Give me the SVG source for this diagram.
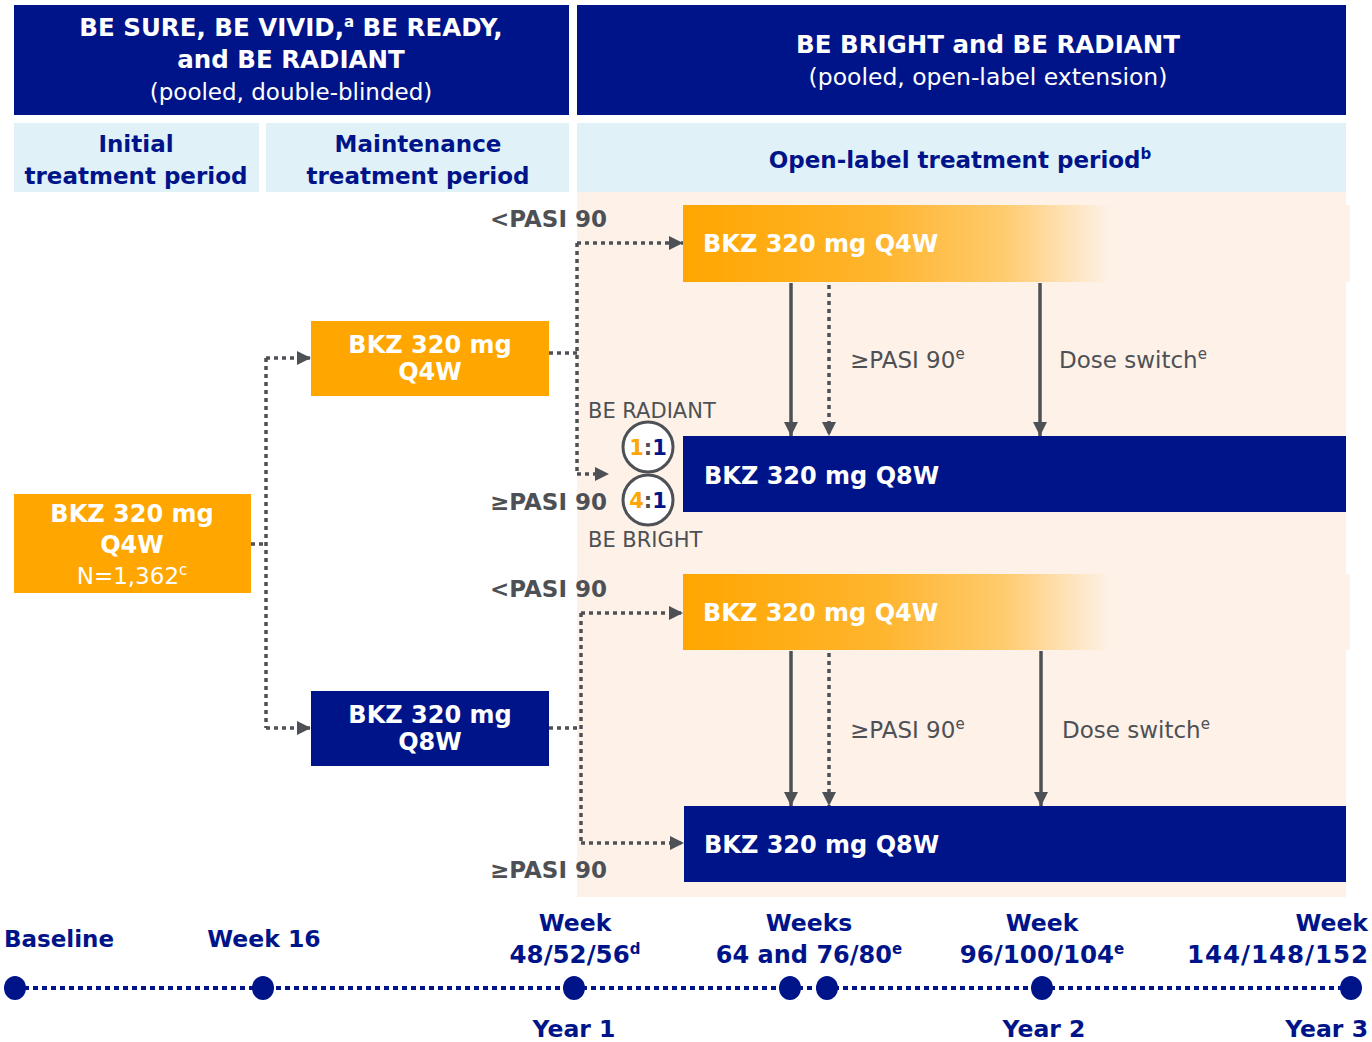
<svg xmlns="http://www.w3.org/2000/svg" width="1372" height="1042" viewBox="0 0 1372 1042">
<style>
.navy{fill:#00148A}
.org{fill:#FFA600}
.lb{fill:#E1F1F8}
.t{font-family:"DejaVu Sans","Verdana",sans-serif}
.b{font-weight:bold}
.w{fill:#FFFFFF}
.nv{fill:#00148A}
.g{fill:#4D5055}
.dot{fill:none;stroke:#4D5055;stroke-width:3.5;stroke-dasharray:4 4}
.sol{fill:none;stroke:#4D5055;stroke-width:3.5}
.tl{fill:none;stroke:#00148A;stroke-width:4;stroke-dasharray:5 4}
</style>
<defs>
<marker id="ah" markerUnits="userSpaceOnUse" markerWidth="16" markerHeight="16" refX="14" refY="7" orient="auto">
<path d="M0,0 L14,7 L0,14 z" fill="#4D5055"/>
</marker>
<linearGradient id="fade" x1="683" y1="0" x2="1350" y2="0" gradientUnits="userSpaceOnUse">
<stop offset="0" stop-color="#FFA600"/>
<stop offset="0.3" stop-color="#FFB52E"/>
<stop offset="0.48" stop-color="#FFCB6E"/>
<stop offset="0.64" stop-color="#FDF1E8"/>
<stop offset="1" stop-color="#FDF1E8"/>
</linearGradient>
</defs>
<rect width="1372" height="1042" fill="#FFFFFF"/>

<g id="header-left">
<rect x="14" y="5" width="555" height="110" class="navy"/>
<text class="t b w" x="291" y="36" font-size="24.5" text-anchor="middle">BE SURE, BE VIVID,<tspan font-size="15" dy="-9">a</tspan><tspan dy="9"> BE READY,</tspan></text>
<text class="t b w" x="291" y="68" font-size="24.5" text-anchor="middle">and BE RADIANT</text>
<text class="t w" x="291" y="100" font-size="23" text-anchor="middle">(pooled, double-blinded)</text>
</g>
<g id="header-right">
<rect x="577" y="5" width="769" height="110" class="navy"/>
<text class="t b w" x="988" y="53" font-size="24.5" text-anchor="middle">BE BRIGHT and BE RADIANT</text>
<text class="t w" x="988" y="85" font-size="23.5" text-anchor="middle">(pooled, open-label extension)</text>
</g>
<g id="period-initial">
<rect x="14" y="123" width="245" height="69" class="lb"/>
<text class="t b nv" x="136" y="152" font-size="23" text-anchor="middle">Initial</text>
<text class="t b nv" x="136" y="184" font-size="23" text-anchor="middle">treatment period</text>
</g>
<g id="period-maintenance">
<rect x="266" y="123" width="303" height="69" class="lb"/>
<text class="t b nv" x="418" y="152" font-size="23" text-anchor="middle">Maintenance</text>
<text class="t b nv" x="418" y="184" font-size="23" text-anchor="middle">treatment period</text>
</g>
<g id="period-openlabel">
<rect x="577" y="123" width="769" height="69" class="lb"/>
<text class="t b nv" x="960" y="168" font-size="23" text-anchor="middle">Open-label treatment period<tspan font-size="15" dy="-9">b</tspan></text>
</g>
<rect id="openlabel-bg" x="577" y="192" width="769" height="705" fill="#FDF1E8"/>

<g id="initial-q4w">
<rect x="14" y="494" width="237" height="99" class="org"/>
<text class="t b w" x="132" y="522" font-size="24" text-anchor="middle">BKZ 320 mg</text>
<text class="t b w" x="132" y="553" font-size="24" text-anchor="middle">Q4W</text>
<text class="t w" x="132" y="584" font-size="23" text-anchor="middle">N=1,362<tspan font-size="15" dy="-9">c</tspan></text>
</g>
<g id="maint-q4w">
<rect x="311" y="321" width="238" height="75" class="org"/>
<text class="t b w" x="430" y="353" font-size="24" text-anchor="middle">BKZ 320 mg</text>
<text class="t b w" x="430" y="380" font-size="24" text-anchor="middle">Q4W</text>
</g>
<g id="maint-q8w">
<rect x="311" y="691" width="238" height="75" class="navy"/>
<text class="t b w" x="430" y="723" font-size="24" text-anchor="middle">BKZ 320 mg</text>
<text class="t b w" x="430" y="750" font-size="24" text-anchor="middle">Q8W</text>
</g>
<g id="ol-q4w-top">
<rect x="683" y="205" width="667" height="77" fill="url(#fade)"/>
<text class="t b w" x="703" y="252" font-size="24">BKZ 320 mg Q4W</text>
</g>
<g id="ol-q8w-top">
<rect x="683" y="436" width="663" height="76" class="navy"/>
<text class="t b w" x="704" y="484" font-size="24">BKZ 320 mg Q8W</text>
</g>
<g id="ol-q4w-bottom">
<rect x="683" y="574" width="667" height="76" fill="url(#fade)"/>
<text class="t b w" x="703" y="621" font-size="24">BKZ 320 mg Q4W</text>
</g>
<g id="ol-q8w-bottom">
<rect x="684" y="806" width="662" height="76" class="navy"/>
<text class="t b w" x="704" y="853" font-size="24">BKZ 320 mg Q8W</text>
</g>

<g id="ratio-radiant">
<circle cx="648" cy="447" r="25" fill="#FFFFFF" stroke="#4D5055" stroke-width="3"/>
<text class="t b" x="648" y="455" font-size="21" text-anchor="middle"><tspan fill="#FFA600">1</tspan><tspan fill="#4D5055">:</tspan><tspan fill="#00148A">1</tspan></text>
</g>
<g id="ratio-bright">
<circle cx="648" cy="500" r="25" fill="#FFFFFF" stroke="#4D5055" stroke-width="3"/>
<text class="t b" x="648" y="508" font-size="21" text-anchor="middle"><tspan fill="#FFA600">4</tspan><tspan fill="#4D5055">:</tspan><tspan fill="#00148A">1</tspan></text>
</g>

<g id="labels">
<text class="t b g" x="490" y="227" font-size="23">&lt;PASI 90</text>
<text class="t b g" x="490" y="510" font-size="23">≥PASI 90</text>
<text class="t b g" x="490" y="597" font-size="23">&lt;PASI 90</text>
<text class="t b g" x="490" y="878" font-size="23">≥PASI 90</text>
<text class="t g" x="588" y="418" font-size="21">BE RADIANT</text>
<text class="t g" x="588" y="547" font-size="21">BE BRIGHT</text>
<text class="t g" x="850" y="368" font-size="23">≥PASI 90<tspan font-size="15" dy="-9">e</tspan></text>
<text class="t g" x="1059" y="368" font-size="23">Dose switch<tspan font-size="15" dy="-9">e</tspan></text>
<text class="t g" x="850" y="738" font-size="23">≥PASI 90<tspan font-size="15" dy="-9">e</tspan></text>
<text class="t g" x="1062" y="738" font-size="23">Dose switch<tspan font-size="15" dy="-9">e</tspan></text>
</g>

<g id="connectors">
<path class="dot" d="M251,544 H266"/>
<path class="dot" d="M266,358 V728"/>
<path class="dot" d="M266,358 H311" marker-end="url(#ah)"/>
<path class="dot" d="M266,728 H311" marker-end="url(#ah)"/>
<path class="dot" d="M549,353 H577"/>
<path class="dot" d="M577,243 V474"/>
<path class="dot" d="M577,243 H683" marker-end="url(#ah)"/>
<path class="dot" d="M577,474 H609" marker-end="url(#ah)"/>
<path class="dot" d="M549,728 H581"/>
<path class="dot" d="M581,613 V843"/>
<path class="dot" d="M581,613 H683" marker-end="url(#ah)"/>
<path class="dot" d="M581,843 H684" marker-end="url(#ah)"/>
<path class="sol" d="M791,283 V436" marker-end="url(#ah)"/>
<path class="dot" d="M829,285 V436" marker-end="url(#ah)"/>
<path class="sol" d="M1040,283 V436" marker-end="url(#ah)"/>
<path class="sol" d="M791,651 V806" marker-end="url(#ah)"/>
<path class="dot" d="M829,653 V806" marker-end="url(#ah)"/>
<path class="sol" d="M1041,651 V806" marker-end="url(#ah)"/>
</g>

<g id="timeline">
<path class="tl" d="M15,988 H1351"/>
<ellipse cx="15" cy="988" rx="11" ry="12" class="navy"/>
<ellipse cx="263" cy="988" rx="11" ry="12" class="navy"/>
<ellipse cx="574" cy="988" rx="11" ry="12" class="navy"/>
<ellipse cx="790" cy="988" rx="11" ry="12" class="navy"/>
<ellipse cx="827" cy="988" rx="11" ry="12" class="navy"/>
<ellipse cx="1042" cy="988" rx="11" ry="12" class="navy"/>
<ellipse cx="1351" cy="988" rx="11" ry="12" class="navy"/>
<text class="t b nv" x="4" y="947" font-size="23">Baseline</text>
<text class="t b nv" x="264" y="947" font-size="23.5" text-anchor="middle">Week 16</text>
<text class="t b nv" x="575" y="931" font-size="23.5" text-anchor="middle">Week</text>
<text class="t b nv" x="575" y="963" font-size="24.5" text-anchor="middle">48/52/56<tspan font-size="15" dy="-9">d</tspan></text>
<text class="t b nv" x="809" y="931" font-size="23.5" text-anchor="middle">Weeks</text>
<text class="t b nv" x="809" y="963" font-size="24" text-anchor="middle">64 and 76/80<tspan font-size="15" dy="-9">e</tspan></text>
<text class="t b nv" x="1042" y="931" font-size="23.5" text-anchor="middle">Week</text>
<text class="t b nv" x="1042" y="963" font-size="24.5" text-anchor="middle">96/100/104<tspan font-size="15" dy="-9">e</tspan></text>
<text class="t b nv" x="1368" y="931" font-size="23.5" text-anchor="end">Week</text>
<text class="t b nv" x="1368" y="963" font-size="24.5" text-anchor="end" textLength="181">144/148/152</text>
<text class="t b nv" x="574" y="1037" font-size="23.5" text-anchor="middle">Year 1</text>
<text class="t b nv" x="1044" y="1037" font-size="23.5" text-anchor="middle">Year 2</text>
<text class="t b nv" x="1368" y="1037" font-size="23.5" text-anchor="end">Year 3</text>
</g>
</svg>
